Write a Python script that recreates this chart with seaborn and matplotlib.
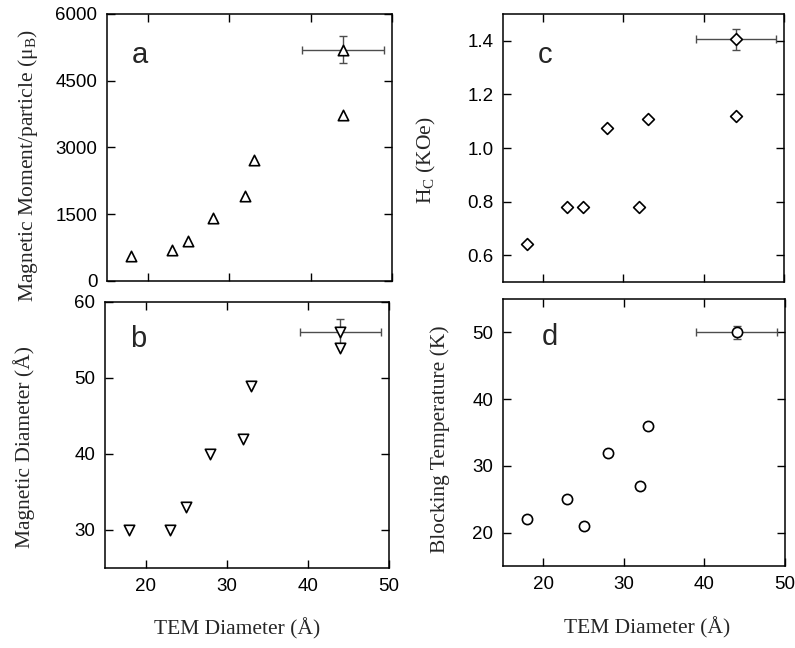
import matplotlib
matplotlib.use("Agg")
import matplotlib.pyplot as plt
import seaborn as sns

# TEM diameter (Angstrom) for each sample
tem_diam = [18, 23, 25, 28, 32, 33, 44]

# panel a: magnetic moment per particle (mu_B)
moment = [560, 700, 900, 1410, 1920, 2720, 3720]
# panel b: magnetic diameter (Angstrom)
mag_diam = [30, 30, 33, 40, 42, 49, 54]
# panel c: coercivity H_C (kOe)
hc = [0.64, 0.78, 0.78, 1.075, 0.78, 1.11, 1.12]
# panel d: blocking temperature (K)
t_block = [22, 25, 21, 32, 27, 36]
tem_d = [18, 23, 25, 28, 32, 33]

# representative point with error bars (top right of every panel)
err_x, err_xerr = 44, 5
err_moment, err_moment_e = 5200, 300
err_diam, err_diam_e = 56, 1.7
err_hc, err_hc_e = 1.405, 0.04
err_tb, err_tb_e = 50, 1

sns.set_theme(style="ticks")
plt.rcParams['font.family'] = ['Liberation Sans', 'DejaVu Sans']
plt.rcParams['mathtext.fontset'] = 'custom'
plt.rcParams['mathtext.rm'] = 'Liberation Serif'

serif = {'family': ['Liberation Serif', 'DejaVu Serif'], 'size': 15.5}

fig = plt.figure(figsize=(7.95, 6.48), dpi=100)
ax_a = fig.add_axes([0.1346, 0.5664, 0.3585, 0.412])
ax_b = fig.add_axes([0.1321, 0.1235, 0.3572, 0.4105])
ax_c = fig.add_axes([0.6327, 0.5648, 0.3535, 0.4136])
ax_d = fig.add_axes([0.6327, 0.1265, 0.3547, 0.412])

panels = [
    (ax_a, tem_diam, moment, err_moment, err_moment_e, '^', 56, 'a',
     'Magnetic Moment/particle (μ$_\\mathrm{B}$)', (0, 6000), [0, 1500, 3000, 4500, 6000]),
    (ax_b, tem_diam, mag_diam, err_diam, err_diam_e, 'v', 56, 'b',
     'Magnetic Diameter (Å)', (25, 60), [30, 40, 50, 60]),
    (ax_c, tem_diam, hc, err_hc, err_hc_e, 'D', 36, 'c',
     'H$_\\mathrm{C}$ (KOe)', (0.5, 1.5), [0.6, 0.8, 1.0, 1.2, 1.4]),
    (ax_d, tem_d, t_block, err_tb, err_tb_e, 'o', 54, 'd',
     'Blocking Temperature (K)', (15, 55), [20, 30, 40, 50]),
]

letter_pos = {'a': (0.088, 0.816), 'b': (0.088, 0.83), 'c': (0.125, 0.817), 'd': (0.139, 0.828)}
ylabel_pos = {'a': (-0.235, 0.434), 'b': (-0.246, 0.453), 'c': (-0.23, 0.455), 'd': (-0.188, 0.475)}

for ax, xs, ys, ey, eye, mk, size, letter, ylabel, ylim, yticks in panels:
    ax.errorbar([err_x], [ey], xerr=err_xerr, yerr=eye, fmt='none',
                ecolor='0.3', elinewidth=1, capsize=3, capthick=1, zorder=2)
    sns.scatterplot(x=xs + [err_x], y=ys + [ey], marker=mk, s=size,
                    color='white', edgecolor='black', linewidth=1.2,
                    ax=ax, zorder=3, legend=False)
    ax.set_xlim(15, 50)
    ax.set_ylim(*ylim)
    ax.set_xticks([20, 30, 40, 50])
    ax.set_yticks(yticks)
    if letter == 'c':
        ax.set_yticklabels([f'{t:.1f}' for t in yticks])
    ax.tick_params(direction='in', length=6, width=1, top=True, right=True,
                   labelsize=13.5, pad=7, colors='black')
    for sp in ax.spines.values():
        sp.set_visible(True)
        sp.set_linewidth(1.1)
        sp.set_color('black')
    ax.set_ylabel(ylabel, fontdict=serif)
    ax.yaxis.set_label_coords(*ylabel_pos[letter])
    ax.text(*letter_pos[letter], letter, transform=ax.transAxes,
            fontsize=21, ha='left', va='baseline')
    if letter in ('a', 'c'):
        ax.tick_params(labelbottom=False)
        ax.set_xlabel('')
    else:
        ax.set_xlabel('TEM Diameter (Å)', fontdict=serif)

ax_b.xaxis.set_label_coords(0.465, -0.19)
ax_d.xaxis.set_label_coords(0.51, -0.19)

fig.savefig('out.png', dpi=100)
